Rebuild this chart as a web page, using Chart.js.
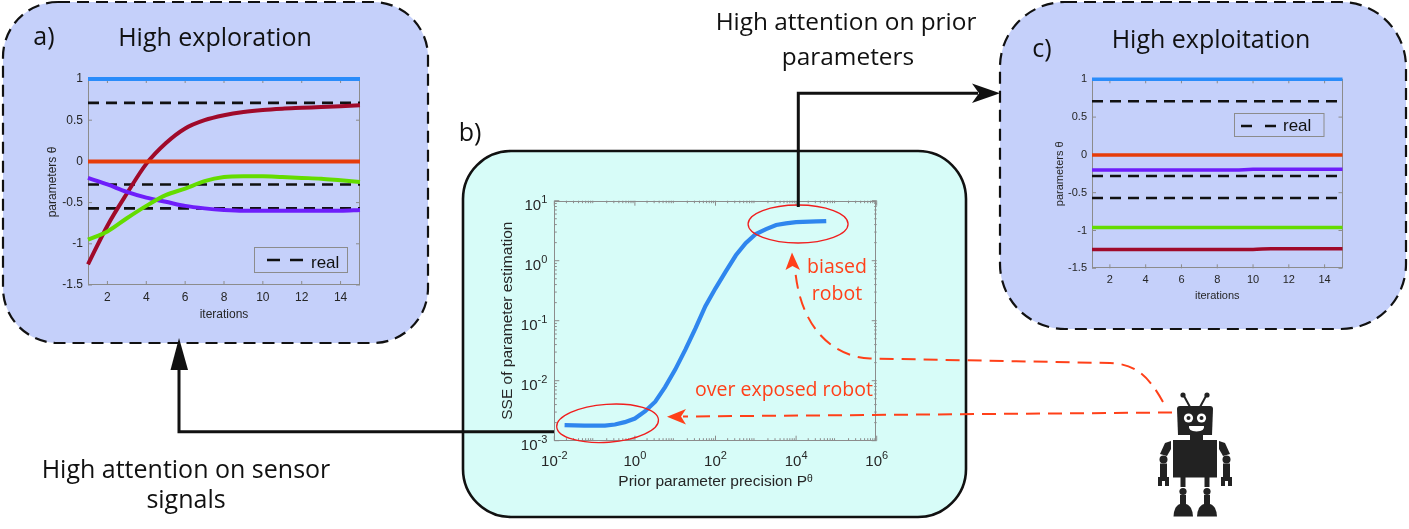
<!DOCTYPE html>
<html><head><meta charset="utf-8">
<script src="https://cdn.jsdelivr.net/npm/chart.js@4.4.1/dist/chart.umd.min.js"></script>
<style>
html,body{margin:0;padding:0;background:#fff;width:1409px;height:529px;overflow:hidden;}
#wrap{position:relative;width:1409px;height:529px;}
#bg,#fg{position:absolute;left:0;top:0;}
canvas{position:absolute;}
.t{font-family:"Open Sans",sans-serif;fill:#111;}
.r{font-family:"Open Sans",sans-serif;fill:#ff4019;}
.lg{font-family:"Liberation Sans",Arial,sans-serif;fill:#111;}
</style></head>
<body><div id="wrap">
<svg id="bg" width="1409" height="529">
  <rect x="3" y="2" width="425" height="341" rx="55" fill="#c5d0fa" stroke="#111" stroke-width="2.2" stroke-dasharray="12 7"/>
  <rect x="1000" y="2" width="406" height="327" rx="65" fill="#c5d0fa" stroke="#111" stroke-width="2.2" stroke-dasharray="12 7"/>
  <rect x="463" y="151" width="503" height="366" rx="48" fill="#d7fcf8" stroke="#111" stroke-width="2.6"/>
</svg>
<canvas id="ca" width="340" height="270" style="left:30px;top:60px"></canvas>
<canvas id="cb" width="400" height="320" style="left:495px;top:180px"></canvas>
<canvas id="cc" width="310" height="250" style="left:1050px;top:60px"></canvas>
<svg id="fg" width="1409" height="529">
  <!-- titles -->
  <text class="t" x="44" y="45" font-size="25" text-anchor="middle">a)</text>
  <text class="t" x="215" y="46" font-size="25" text-anchor="middle">High exploration</text>
  <text class="t" x="1042" y="57" font-size="25" text-anchor="middle">c)</text>
  <text class="t" x="1211" y="48" font-size="25" text-anchor="middle">High exploitation</text>
  <text class="t" x="470" y="141" font-size="25" text-anchor="middle">b)</text>
  <text class="t" x="846" y="30" font-size="24.4" text-anchor="middle">High attention on prior</text>
  <text class="t" x="848" y="65" font-size="24.4" text-anchor="middle">parameters</text>
  <text class="t" x="186" y="478" font-size="25" text-anchor="middle">High attention on sensor</text>
  <text class="t" x="186" y="508" font-size="25" text-anchor="middle">signals</text>
  <text class="r" x="837" y="273" font-size="19.5" text-anchor="middle">biased</text>
  <text class="r" x="837" y="300" font-size="19.5" text-anchor="middle">robot</text>
  <text class="r" x="784" y="396" font-size="19.5" text-anchor="middle">over exposed robot</text>
  <!-- legends -->
  <rect x="254.5" y="247.5" width="93" height="25" fill="none" stroke="#8c8c8c" stroke-width="1"/>
  <line x1="267" y1="260" x2="303" y2="260" stroke="#111" stroke-width="2.6" stroke-dasharray="13 10"/>
  <text class="lg" x="311" y="268" font-size="17">real</text>
  <rect x="1234.5" y="113.5" width="89.5" height="23" fill="none" stroke="#8c8c8c" stroke-width="1"/>
  <line x1="1241" y1="126" x2="1277" y2="126" stroke="#111" stroke-width="2.6" stroke-dasharray="11 13"/>
  <text class="lg" x="1283" y="131" font-size="17">real</text>
  <!-- black arrows -->
  <path d="M798.3 207 V93.3 H978" fill="none" stroke="#111" stroke-width="3"/>
  <polygon points="1000,93.3 972,83.5 979,93.3 972,103" fill="#111"/>
  <path d="M554 431.7 H179 V366" fill="none" stroke="#111" stroke-width="3"/>
  <polygon points="179,338 170.5,370 188,370" fill="#111"/>
  <!-- red dashed arrows -->
  <path d="M1172 412.5 L683 416.5" fill="none" stroke="#ff4019" stroke-width="2" stroke-dasharray="14 8"/>
  <polygon points="667,416.7 686,409 681,416.6 686,424.5" fill="#ff4019"/>
  <path d="M1163 402 C1148 375 1135 364 1110 363 L870 358.5 C835 357 800 330 795 268" fill="none" stroke="#ff4019" stroke-width="2" stroke-dasharray="14 8"/>
  <polygon points="792,252.5 785.5,270 792.5,266 800,270" fill="#ff4019"/>
  <!-- robot -->
  <g fill="#222" stroke="none">
    <line x1="1190" y1="407" x2="1184" y2="396" stroke="#222" stroke-width="2"/>
    <line x1="1200" y1="407" x2="1206" y2="396" stroke="#222" stroke-width="2"/>
    <circle cx="1183" cy="395" r="2.6"/>
    <circle cx="1207" cy="395" r="2.6"/>
    <path d="M1177 409 Q1177 406 1180 406 H1210 Q1213 406 1213 409 L1212 435 H1178 Z"/>
    <rect x="1190" y="434" width="13" height="7"/>
    <rect x="1173" y="440" width="44" height="37.5"/>
    <path d="M1171 441 L1165 443 L1160 454 L1167 456 L1171 449 Z"/>
    <circle cx="1163.5" cy="459.5" r="4"/>
    <rect x="1160" y="463.5" width="7" height="14"/>
    <path d="M1158 477 H1169 V486 H1165 V481 H1162 V486 H1158 Z"/>
    <path d="M1219 441 L1225 443 L1230 454 L1223 456 L1219 449 Z"/>
    <circle cx="1226.5" cy="459.5" r="4"/>
    <rect x="1223" y="463.5" width="7" height="14"/>
    <path d="M1221 477 H1232 V486 H1228 V481 H1225 V486 H1221 Z"/>
    <rect x="1180.5" y="477" width="5" height="10"/>
    <circle cx="1183" cy="491.5" r="3.6"/>
    <rect x="1180" y="495" width="6" height="11"/>
    <path d="M1173.5 516.5 Q1174 506 1180 504 H1186 Q1192.5 506 1193 516.5 Z"/>
    <rect x="1204.5" y="477" width="5" height="10"/>
    <circle cx="1207" cy="491.5" r="3.6"/>
    <rect x="1204" y="495" width="6" height="11"/>
    <path d="M1197 516.5 Q1197.5 506 1204 504 H1210 Q1216.5 506 1217 516.5 Z"/>
  </g>
  <g fill="#fff">
    <circle cx="1188.5" cy="418" r="4.6"/>
    <circle cx="1201.5" cy="418" r="4.6"/>
    <path d="M1189 426 H1204 Q1205 431 1196.5 431.5 Q1188 431 1189 426 Z"/>
  </g>
  <g fill="#222">
    <circle cx="1188.5" cy="418" r="2"/>
    <circle cx="1201.5" cy="418" r="2"/>
  </g>
</svg>
</div>
<script>
// ---------- data ----------
const iterations = [1,2,3,4,5,6,7,8,9,10,11,12,13,14,15];
const iterTicks = [2,4,6,8,10,12,14];
const paramTicks = [-1.5,-1,-0.5,0,0.5,1];

// panel a (high exploration)
const aBlue    = [1,1,1,1,1,1,1,1,1,1,1,1,1,1,1];
const aOrange  = [0,0,0,0,0,0,0,0,0,0,0,0,0,0,0];
const aDarkRed = [-1.25,-0.78,-0.39,-0.03,0.22,0.40,0.50,0.56,0.60,0.625,0.64,0.65,0.66,0.67,0.68];
const aGreen   = [-0.95,-0.85,-0.69,-0.54,-0.41,-0.33,-0.24,-0.19,-0.18,-0.18,-0.19,-0.20,-0.21,-0.23,-0.25];
const aPurple  = [-0.20,-0.28,-0.37,-0.44,-0.49,-0.54,-0.57,-0.59,-0.60,-0.60,-0.60,-0.60,-0.60,-0.60,-0.59];

// panel c (high exploitation)
const cBlue    = [1,1,1,1,1,1,1,1,1,1,1,1,1,1,1];
const cOrange  = [0,0,0,0,0,0,0,0,0,0,0,0,0,0,0];
const cPurple  = [-0.20,-0.20,-0.20,-0.20,-0.20,-0.20,-0.20,-0.20,-0.20,-0.19,-0.19,-0.19,-0.19,-0.19,-0.19];
const cGreen   = [-0.96,-0.96,-0.96,-0.96,-0.96,-0.96,-0.96,-0.96,-0.96,-0.96,-0.96,-0.96,-0.96,-0.96,-0.96];
const cDarkRed = [-1.25,-1.25,-1.25,-1.25,-1.25,-1.25,-1.25,-1.25,-1.25,-1.25,-1.24,-1.24,-1.24,-1.24,-1.24];

// real parameters (dashed)
const realA = [0.71,0.71,0.71,0.71,0.71,0.71,0.71,0.71,0.71,0.71,0.71,0.71,0.71,0.71,0.71];
const realB = [-0.28,-0.28,-0.28,-0.28,-0.28,-0.28,-0.28,-0.28,-0.28,-0.28,-0.28,-0.28,-0.28,-0.28,-0.28];
const realC = [-0.57,-0.57,-0.57,-0.57,-0.57,-0.57,-0.57,-0.57,-0.57,-0.57,-0.57,-0.57,-0.57,-0.57,-0.57];

// panel b
const precision = [0.018,0.056,0.18,0.32,0.56,1,1.8,3.2,5.6,10,18,32,56,100,180,320,560,1000,1800,3200,5600,10000,32000,56000];
const sse = [0.00182,0.00178,0.00178,0.00186,0.00204,0.00234,0.0031,0.00446,0.00783,0.0153,0.0332,0.075,0.175,0.347,0.662,1.23,1.96,2.78,3.36,3.94,4.18,4.38,4.51,4.57];
const precTicks = [0.01,1,100,10000,1000000];
const precTickExps = ['-2','0','2','4','6'];
const sseTicks = [0.001,0.01,0.1,1,10];
const sseTickExps = ['-3','-2','-1','0','1'];
const highlightCenters = [[0.21,0.00195],[11200,4.09]];

// ---------- styling ----------
Chart.defaults.font.family = '"Liberation Sans", Arial, Helvetica, sans-serif';
Chart.defaults.color = '#262626';
const COL = {blue:'#2a8cfa', orange:'#e63c0a', darkred:'#a00a2a', green:'#64dc00', purple:'#6e1efa', real:'#111'};

const boxPlugin = {
  id:'mbox',
  beforeDatasetsDraw(chart, args, o){
    const {ctx, chartArea:a} = chart;
    const xs = chart.scales.x, ys = chart.scales.y;
    ctx.save();
    ctx.strokeStyle = '#8c8c8c'; ctx.lineWidth = 1;
    ctx.strokeRect(Math.round(a.left)+0.5, Math.round(a.top)+0.5, Math.round(a.right-a.left)-1, Math.round(a.bottom-a.top)-1);
    ctx.beginPath();
    const L = o.len || 4, Lm = 2.5;
    xs.ticks.forEach(t=>{const p=xs.getPixelForValue(t.value); ctx.moveTo(p,a.bottom); ctx.lineTo(p,a.bottom-L); ctx.moveTo(p,a.top); ctx.lineTo(p,a.top+L);});
    ys.ticks.forEach(t=>{const p=ys.getPixelForValue(t.value); ctx.moveTo(a.left,p); ctx.lineTo(a.left+L,p); ctx.moveTo(a.right,p); ctx.lineTo(a.right-L,p);});
    if (o.minor){
      [xs, ys].forEach(s=>{
        const e0 = Math.floor(Math.log10(s.min)), e1 = Math.ceil(Math.log10(s.max));
        for (let e=e0; e<e1; e++) for (let k=2; k<10; k++){
          const v = k*Math.pow(10,e); if (v<s.min||v>s.max) continue;
          const p = s.getPixelForValue(v);
          if (s===xs){ctx.moveTo(p,a.bottom);ctx.lineTo(p,a.bottom-Lm);ctx.moveTo(p,a.top);ctx.lineTo(p,a.top+Lm);}
          else {ctx.moveTo(a.left,p);ctx.lineTo(a.left+Lm,p);ctx.moveTo(a.right,p);ctx.lineTo(a.right-Lm,p);}
        }
      });
    }
    ctx.stroke(); ctx.restore();
  }
};

const ellipsePlugin = {
  id:'ellipses',
  afterDatasetsDraw(chart, args, o){
    if (!o.items) return;
    const {ctx} = chart; const xs = chart.scales.x, ys = chart.scales.y;
    ctx.save(); ctx.strokeStyle = '#f01e1e'; ctx.lineWidth = 1.3;
    highlightCenters.forEach((c,i)=>{
      const it = o.items[i];
      ctx.beginPath();
      ctx.ellipse(xs.getPixelForValue(c[0]), ys.getPixelForValue(c[1]), it.rx, it.ry, it.rot, 0, Math.PI*2);
      ctx.stroke();
    });
    ctx.restore();
  }
};

// power-of-ten tick labels with real superscripts, placed from the scales' ticks
const powLabelPlugin = {
  id:'powLabels',
  afterDraw(chart){
    const {ctx, chartArea:a} = chart; const xs = chart.scales.x, ys = chart.scales.y;
    const fb = '15px "Liberation Sans", Arial, sans-serif', fe = '11px "Liberation Sans", Arial, sans-serif';
    ctx.save(); ctx.fillStyle = '#262626'; ctx.textBaseline = 'alphabetic'; ctx.textAlign = 'left';
    const draw = (exp, x, y, align) => {
      ctx.font = fb; const wb = ctx.measureText('10').width;
      ctx.font = fe; const we = ctx.measureText(exp).width;
      const x0 = align === 'center' ? x - (wb + we) / 2 : x - (wb + we);
      ctx.font = fb; ctx.fillText('10', x0, y);
      ctx.font = fe; ctx.fillText(exp, x0 + wb, y - 7);
    };
    xs.ticks.forEach((t,i)=>draw(precTickExps[i], xs.getPixelForValue(t.value), a.bottom + 25, 'center'));
    ys.ticks.forEach((t,i)=>draw(sseTickExps[i], a.left - 7, ys.getPixelForValue(t.value) + 9.5, 'right'));
    ctx.restore();
  }
};

function paramChart(id, series, o){
  return new Chart(document.getElementById(id), {
    type:'line',
    data:{datasets: series.map(s=>({
      label:s.label,
      data: iterations.map((x,i)=>({x:x, y:s.values[i]})),
      borderColor:s.color, borderWidth:s.dash?2.6:o.lw,
      borderDash:s.dash?[11,7]:[], pointRadius:0,
      cubicInterpolationMode:'monotone', clip:false, order:s.dash?1:0
    }))},
    options:{
      responsive:false, animation:false, events:[],
      layout:{padding:{top:o.padTop, right:o.padRight, left:0, bottom:0}},
      plugins:{legend:{display:false}, tooltip:{enabled:false}, mbox:{len:4}},
      scales:{
        x:{type:'linear', min:1, max:15,
          afterBuildTicks:s=>{s.ticks = iterTicks.map(v=>({value:v}));},
          afterFit:s=>{s.height = o.xH;},
          grid:{display:false, drawTicks:false}, border:{display:false},
          ticks:{padding:o.tickPad, font:{size:o.tickSize}, maxRotation:0, autoSkip:false},
          title:{display:true, text:'iterations', font:{size:o.titleSize}, padding:{top:0, bottom:o.xTitlePad}}},
        y:{type:'linear', min:-1.5, max:1,
          afterBuildTicks:s=>{s.ticks = paramTicks.map(v=>({value:v}));},
          afterFit:s=>{s.width = o.yW;},
          grid:{display:false, drawTicks:false}, border:{display:false},
          ticks:{padding:o.tickPad, font:{size:o.tickSize}, autoSkip:false, callback:v=>String(v)},
          title:{display:true, text:'parameters \u03B8', font:{size:o.titleSize}, padding:{top:o.yTitlePad, bottom:0}}}
      }
    },
    plugins:[boxPlugin]
  });
}

paramChart('ca', [
  {label:'real', values:realA, color:COL.real, dash:true},
  {label:'real2', values:realB, color:COL.real, dash:true},
  {label:'real3', values:realC, color:COL.real, dash:true},
  {label:'p1', values:aBlue, color:COL.blue},
  {label:'p2', values:aOrange, color:COL.orange},
  {label:'p3', values:aGreen, color:COL.green},
  {label:'p4', values:aPurple, color:COL.purple},
  {label:'p5', values:aDarkRed, color:COL.darkred}
], {padTop:19, padRight:10, xH:45, yW:58, tickPad:5, tickSize:12, titleSize:12, xTitlePad:8, yTitlePad:15, lw:4});

paramChart('cc', [
  {label:'real', values:realA, color:COL.real, dash:true},
  {label:'real2', values:realB, color:COL.real, dash:true},
  {label:'real3', values:realC, color:COL.real, dash:true},
  {label:'p1', values:cBlue, color:COL.blue},
  {label:'p2', values:cOrange, color:COL.orange},
  {label:'p3', values:cPurple, color:COL.purple},
  {label:'p4', values:cGreen, color:COL.green},
  {label:'p5', values:cDarkRed, color:COL.darkred}
], {padTop:19.3, padRight:17.5, xH:41.7, yW:42, tickPad:5, tickSize:11, titleSize:11, xTitlePad:7.4, yTitlePad:3.4, lw:3.5});

new Chart(document.getElementById('cb'), {
  type:'line',
  data:{datasets:[{label:'SSE', data: precision.map((p,i)=>({x:p, y:sse[i]})),
    borderColor:'#2f86ee', borderWidth:4.2, pointRadius:0, clip:false}]},
  options:{
    responsive:false, animation:false, events:[],
    layout:{padding:{top:20.7, right:18.3, left:0, bottom:0}},
    plugins:{legend:{display:false}, tooltip:{enabled:false}, mbox:{len:5, minor:true},
      ellipses:{items:[{rx:51, ry:19, rot:-0.07},{rx:50, ry:19, rot:0}]}},
    scales:{
      x:{type:'logarithmic', min:0.01, max:1000000,
        afterBuildTicks:s=>{s.ticks = precTicks.map(v=>({value:v}));},
        afterFit:s=>{s.height = 59.3;},
        grid:{display:false, drawTicks:false}, border:{display:false},
        ticks:{display:false},
        title:{display:true, text:'Prior parameter precision P\u1DBF', font:{size:15.5}, padding:{top:0, bottom:8.7}}},
      y:{type:'logarithmic', min:0.001, max:10,
        afterBuildTicks:s=>{s.ticks = sseTicks.map(v=>({value:v}));},
        afterFit:s=>{s.width = 59.3;},
        grid:{display:false, drawTicks:false}, border:{display:false},
        ticks:{display:false},
        title:{display:true, text:'SSE of parameter estimation', font:{size:15.5}, padding:{top:3.7, bottom:0}}}
    }
  },
  plugins:[boxPlugin, ellipsePlugin, powLabelPlugin]
});
</script>
</body></html>
